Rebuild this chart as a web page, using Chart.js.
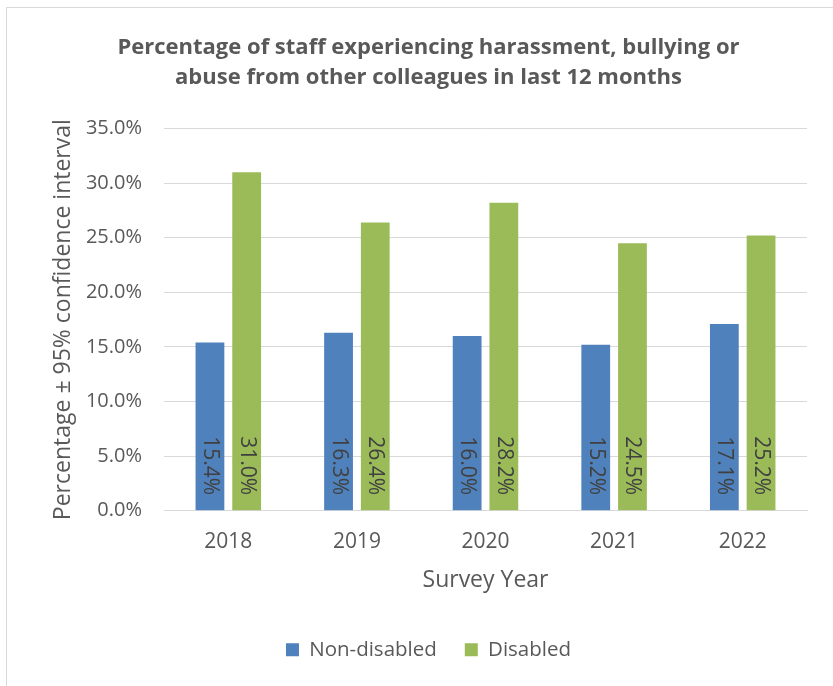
<!DOCTYPE html>
<html lang="en">

<head>
    <meta charset="UTF-8">
    <title>Harassment from colleagues</title>
    <script src="https://cdn.jsdelivr.net/npm/chart.js"></script>
    <style>
        html, body {
            margin: 0;
            padding: 0;
            background: #fff;
            overflow: hidden;
        }

        #frame {
            position: absolute;
            left: 6px;
            top: 7px;
            width: 900px;
            height: 800px;
            border: 1px solid #d9d9d9;
        }

        #chart {
            position: absolute;
            left: 0;
            top: 0;
        }
    </style>
</head>

<body>
    <div id="frame"></div>
    <canvas id="chart" width="833" height="686"></canvas>

    <script>
        // survey results, percent of staff
        var years = ['2018', '2019', '2020', '2021', '2022'];
        var nonDisabled = [15.4, 16.3, 16.0, 15.2, 17.1];
        var disabled = [31.0, 26.4, 28.2, 24.5, 25.2];
        var yTicks = [0, 5, 10, 15, 20, 25, 30, 35];

        var grey = '#595959';
        Chart.defaults.font.family = "'Open Sans', sans-serif";
        Chart.defaults.color = grey;

        // value labels written sideways at the foot of each bar
        var barLabels = {
            id: 'barLabels',
            afterDatasetsDraw: function (chart) {
                var ctx = chart.ctx;
                ctx.save();
                ctx.font = "21px 'Open Sans', sans-serif";
                ctx.fillStyle = '#404040';
                ctx.textAlign = 'right';
                ctx.textBaseline = 'middle';
                chart.data.datasets.forEach(function (ds, i) {
                    chart.getDatasetMeta(i).data.forEach(function (bar, j) {
                        ctx.save();
                        ctx.translate(bar.x, bar.base - 15);
                        ctx.rotate(Math.PI / 2);
                        ctx.fillText(ds.data[j].toFixed(1) + '%', 0, 0);
                        ctx.restore();
                    });
                });
                ctx.restore();
            }
        };

        new Chart(document.getElementById('chart'), {
            type: 'bar',
            data: {
                labels: years,
                datasets: [{
                    label: 'Non-disabled',
                    data: nonDisabled,
                    backgroundColor: '#4f81bd'
                }, {
                    label: 'Disabled',
                    data: disabled,
                    backgroundColor: '#9bbb59'
                }]
            },
            options: {
                responsive: false,
                animation: false,
                layout: {
                    padding: { left: 50, right: 26, top: 8, bottom: 16 }
                },
                datasets: {
                    bar: {
                        categoryPercentage: 0.571,
                        barPercentage: 0.784
                    }
                },
                plugins: {
                    title: {
                        display: true,
                        text: ['Percentage of staff experiencing harassment, bullying or',
                            'abuse from other colleagues in last 12 months'],
                        color: grey,
                        font: { size: 22, weight: 'bold', lineHeight: 1.4 },
                        padding: { top: 24, bottom: 35 }
                    },
                    legend: {
                        position: 'bottom',
                        labels: {
                            boxWidth: 13,
                            boxHeight: 13,
                            padding: 28,
                            color: grey,
                            font: { size: 20.5 }
                        }
                    },
                    tooltip: { enabled: false }
                },
                scales: {
                    x: {
                        grid: { display: false, drawTicks: false },
                        border: { color: '#d9d9d9', width: 1 },
                        ticks: { padding: 19, font: { size: 21 } },
                        title: {
                            display: true,
                            text: 'Survey Year',
                            font: { size: 23 },
                            padding: { top: -7, bottom: 17 }
                        }
                    },
                    y: {
                        min: yTicks[0],
                        max: yTicks[yTicks.length - 1],
                        afterBuildTicks: function (scale) {
                            scale.ticks = yTicks.map(function (v) { return { value: v }; });
                        },
                        afterFit: function (scale) {
                            scale.width = 114;
                        },
                        grid: { color: '#d9d9d9', drawTicks: false },
                        border: { display: false },
                        ticks: {
                            padding: 22,
                            font: { size: 20 },
                            callback: function (v) { return v.toFixed(1) + '%'; }
                        },
                        title: {
                            display: true,
                            text: 'Percentage ± 95% confidence interval',
                            font: { size: 23 },
                            padding: 0
                        }
                    }
                }
            },
            plugins: [barLabels]
        });
    </script>
</body>

</html>
